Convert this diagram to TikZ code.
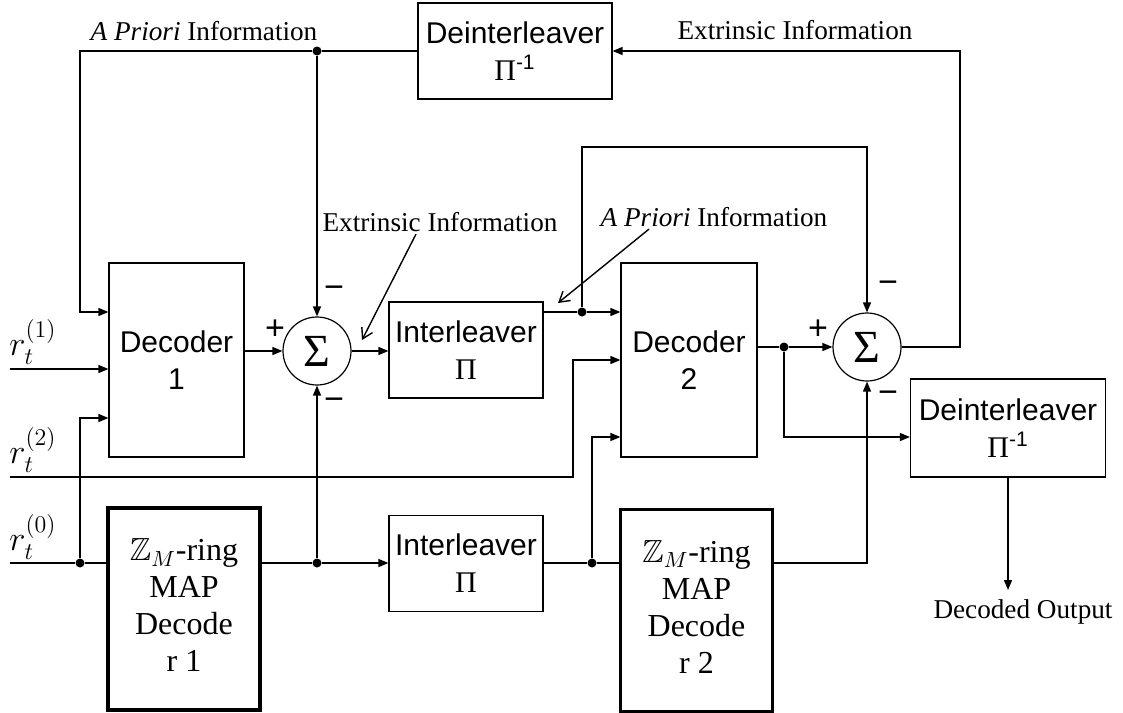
\documentclass[tikz,border=0pt]{standalone}
\usepackage{fontspec}
\setmainfont{Liberation Serif}
\setsansfont{Liberation Sans}
\usepackage{amssymb}
\usetikzlibrary{positioning, arrows.meta}

\newcommand{\ringtext}[1]{\raisebox{7pt}{\begin{tabular}{@{}c@{}}$\mathbb{Z}_M$-ring\\MAP\\Decode\\r #1\end{tabular}}}

\tikzset{
  block/.style={draw, line width=0.6pt, inner sep=0pt, align=center,
    font=\sffamily\fontsize{15}{18.5}\selectfont},
  mapblock/.style={draw, line width=1.6pt, inner sep=0pt,
    minimum width=76pt, minimum height=101pt, font=\fontsize{16}{18.5}\selectfont},
  sum/.style={draw, circle, line width=0.6pt, inner sep=0pt, minimum size=34pt,
    font=\fontsize{23}{23}\selectfont},
  dot/.style={circle, fill, inner sep=0pt, minimum size=4.5pt},
  info/.style={font=\fontsize{13.6}{16}\selectfont, inner sep=1pt},
  rlabel/.style={font=\fontsize{17}{20}\selectfont, inner sep=0pt},
  sign/.style={font=\sffamily\fontsize{17}{17}\selectfont, inner sep=0pt},
  line/.style={line width=0.7pt},
  pointer/.style={line width=0.7pt, -{Straight Barb[length=5pt,width=6pt]}},
}

\begin{document}
\begin{tikzpicture}[x=0.5pt, y=-0.5pt, >={Triangle[length=5pt,width=4pt]}]
    \useasboundingbox (0,0) rectangle (1123,712);

    % blocks
    \node[block, minimum width=97pt, minimum height=48pt] (deintA) at (515,51) {Deinterleaver\\\textrm{Π}\textsuperscript{-1}};
    \node[block, minimum width=67.5pt, minimum height=97pt] (dec1) at (176.5,360) {Decoder\\1};
    \node[sum] (sum1) at (317,351) {Σ};
    \node[block, minimum width=77pt, minimum height=48pt] (il1) at (466,350) {Interleaver\\\textrm{Π}};
    \node[block, minimum width=68pt, minimum height=97pt] (dec2) at (689,360) {Decoder\\2};
    \node[sum] (sum2) at (867,347) {Σ};
    \node[block, minimum width=97.5pt, minimum height=49pt] (deintB) at (1008,428) {Deinterleaver\\\textrm{Π}\textsuperscript{-1}};
    \node[mapblock] (map1) at (184,609) {\ringtext{1}};
    \node[block, minimum width=77pt, minimum height=48pt] (il2) at (466,563.5) {Interleaver\\\textrm{Π}};
    \node[mapblock] (map2) at (696.5,610.5) {\ringtext{2}};

    % texts
    \node[info] (apA) at (204,31) {\textit{A Priori} Information};
    \node[info] (exA) at (795,30) {Extrinsic Information};
    \node[info] (exB) at (440,222) {Extrinsic Information};
    \node[info] (apB) at (714,217) {\textit{A Priori} Information};
    \node[info] (outlbl) at (1023,612) {Decoded Output};
    \node[rlabel] (r1) at (33,342) {$r_t^{(1)}$};
    \node[rlabel] (r2) at (33,450) {$r_t^{(2)}$};
    \node[rlabel] (r0) at (33,537) {$r_t^{(0)}$};
    \node[sign] (plusA) at (275,330) {+};
    \node[sign] (minusAt) at (334,292) {−};
    \node[sign] (minusAb) at (334,404) {−};
    \node[sign] (plusB) at (818,330) {+};
    \node[sign] (minusBt) at (888,287) {−};
    \node[sign] (minusBb) at (888,397) {−};

    % junctions and corners
    \node[dot] (j1) at (317,51) {};
    \node[dot] (j2) at (582,312) {};
    \node[dot] (j3) at (784,347) {};
    \node[dot] (j4) at (80,563) {};
    \node[dot] (j5) at (317,563) {};
    \node[dot] (j6) at (592,563) {};
    \coordinate (in1) at (10,369);
    \coordinate (in2) at (10,477);
    \coordinate (in0) at (10,563);
    \coordinate (fbA) at (80,51);
    \coordinate (fbB) at (960,51);
    \coordinate (loopB) at (867,147);
    \coordinate (r2bend) at (573,477);
    \coordinate (outtip) at (1008,590);
    \coordinate (exBtip) at (362,340);
    \coordinate (apBtip) at (558,303);

    % upper decoder
    \draw[line,->] (deintA.west) -- (j1) -- (fbA) |- ([yshift=24pt]dec1.west);
    \draw[line,->] (j1) -- (sum1.north);
    \draw[line,->] (in1) -- (in1 -| dec1.west);
    \draw[line,->] (dec1.east |- sum1.west) -- (sum1.west);
    \draw[line,->] (sum1.east) -- (sum1.east -| il1.west);
    \draw[line] (j2 -| il1.east) -- (j2);
    \draw[line,->] (j2) -- (j2 -| dec2.west);
    \draw[line,->] (j2) |- (loopB) -- (sum2.north);
    \draw[line,->] (in2) -- (r2bend) |- (dec2.west);
    \draw[line] (dec2.east |- sum2.west) -- (j3);
    \draw[line,->] (j3) -- (sum2.west);
    \draw[line,->] (j3) |- ([yshift=-4.5pt]deintB.west);
    \draw[line,->] (sum2.east) -| (fbB) -- (deintA.east);
    \draw[line,->] (deintB.south) -- (outtip);

    % lower ring decoders
    \draw[line] (in0) -- (j4) -- (j4 -| map1.west);
    \draw[line,->] (j4) |- ([yshift=-29pt]dec1.west);
    \draw[line] (j4 -| map1.east) -- (j5);
    \draw[line,->] (j5) -- (j5 -| il2.west);
    \draw[line,->] (j5) -- (sum1.south);
    \draw[line] (j6 -| il2.east) -- (j6) -- (j6 -| map2.west);
    \draw[line,->] (j6) |- ([yshift=-38.5pt]dec2.west);
    \draw[line,->] (j6 -| map2.east) -| (sum2.south);

    % pointers
    \draw[pointer] ([xshift=-12pt]exB.south) -- (exBtip);
    \draw[pointer] ([xshift=-32.5pt]apB.south) -- (apBtip);
\end{tikzpicture}
\end{document}
